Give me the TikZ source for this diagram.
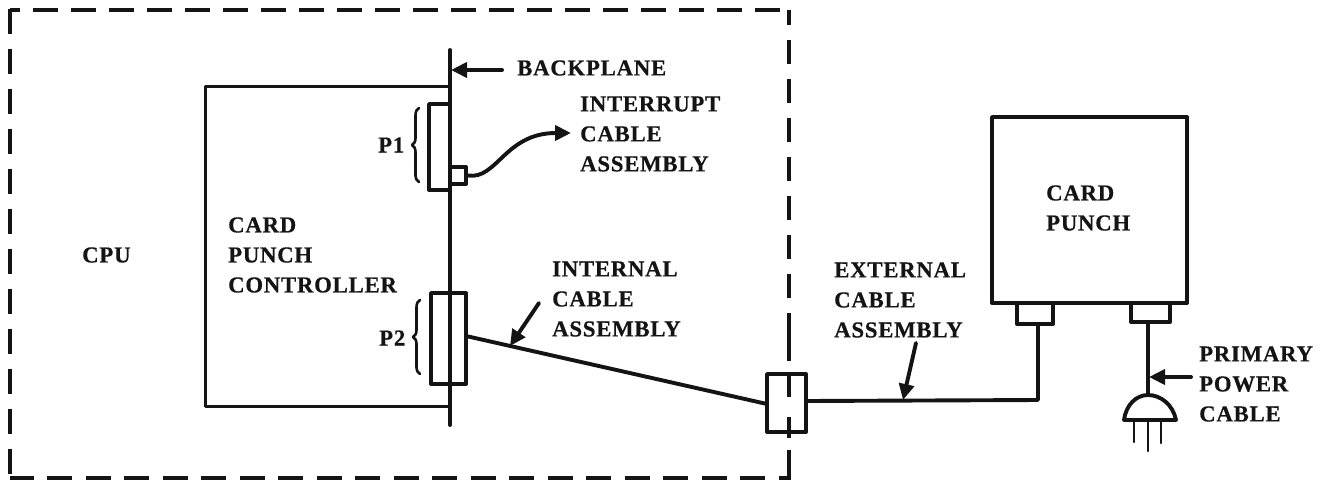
\documentclass[tikz,border=0pt]{standalone}
\usepackage{fontspec}
\setmainfont{Liberation Serif}[BoldFeatures={LetterSpace=3.2,FakeBold=0.5}]
\usetikzlibrary{arrows.meta,decorations.pathreplacing}
\tikzset{
  x=1pt,y=-1pt,
  ln/.style={line width=3.9pt,line cap=round,line join=round,black!92},
  boxln/.style={draw,line width=3.9pt,line join=round,black!92,inner sep=0pt},
  midln/.style={line width=3pt,line cap=round,line join=round,black!92},
  thinln/.style={line width=2.6pt,line cap=round,line join=round,black!92},
  dashln/.style={line width=3.2pt,black!92},
  arr/.style={ln,-{Triangle[length=16pt,width=15pt]}},
  lbl/.style={font=\fontsize{22.8}{30}\selectfont\bfseries,align=left,anchor=west,inner sep=0pt,text=black!92},
  brace/.style={thinln,decorate,decoration={brace,amplitude=7pt}},
}
\begin{document}
\begin{tikzpicture}
\useasboundingbox (0,0) rectangle (1325,480);
\fill[white] (0,0) rectangle (1325,480);
% dashed enclosure
\draw[dashln,dash pattern=on 25pt off 13pt,dash phase=15pt] (10,10) -- (789,10);
\draw[dashln,dash pattern=on 25pt off 15pt] (10,8.5) -- (10,478);
\draw[dashln,dash pattern=on 25pt off 13.5pt,dash phase=13pt] (790.5,478) -- (10,478);
\draw[dashln,dash pattern=on 24pt off 15pt] (789,337) -- (789,10);
\draw[dashln] (789,361) -- (789,337);
\draw[dashln] (789,450) -- (789,479.5);
% controller + backplane
\coordinate (bpT) at (450,50);
\coordinate (bpB) at (450,425);
\draw[ln] (bpT) -- (bpB);
\draw[midln] (450,86) -- (205,86) -- (205,406) -- (450,406);
% P1
\node[boxln,minimum width=21pt,minimum height=86pt] (p1) at (439.5,147) {};
\node[boxln,minimum width=16pt,minimum height=17pt] (ic) at (458,175.5) {};
% P2
\node[boxln,minimum width=35pt,minimum height=91pt] (p2) at (448.5,338.5) {};
\coordinate (p2o) at (466,336);
% midway connector
\node[boxln,minimum width=39pt,minimum height=58pt,fill=white] (mc) at (786.5,403) {};
\draw[dashln] (789,374) -- (789,397);
\draw[dashln] (789,417) -- (789,438);
\coordinate (mcl) at (767,404);
\coordinate (mcr) at (806,401);
\draw[ln] (p2o) -- (mcl);
% card punch
\node[boxln,minimum width=195pt,minimum height=186pt] (cp) at (1089.5,210) {};
\node[boxln,minimum width=36pt,minimum height=21pt] (c1) at (1035,313.5) {};
\node[boxln,minimum width=39pt,minimum height=19pt] (c2) at (1150.5,312.5) {};
\draw[ln] (mcr) -- (1038,400) -- (c1.south -| 1038,0);
% plug
\coordinate (plugT) at (1148,395);
\draw[ln] (c2.south -| plugT) -- (plugT);
\draw[ln] (1124,420) -- (1176,420) .. controls (1173,405) and (1161,395) .. (plugT) .. controls (1136,395) and (1126,405) .. (1124,420) -- cycle;
\draw[thinln] (1134,420) -- (1134,442);
\draw[thinln] (1148,420) -- (1148,451);
\draw[thinln] (1161,420) -- (1161,443);
% interrupt curve
\coordinate (icTip) at (571,133);
\draw[arr] (ic.east) .. controls (497,180) and (505,133) .. (icTip);
% braces
\draw[brace] (419,182) -- (419,108);
\draw[brace] (420,374) -- (420,300);
% labels
\node[lbl] (tcpu) at (82,255) {CPU};
\node[lbl] (tctl) at (228,255) {CARD\\PUNCH\\CONTROLLER};
\node[lbl] (tp1) at (378,145) {P1};
\node[lbl] (tp2) at (379,338) {P2};
\node[lbl] (tbp) at (517,68) {BACKPLANE};
\node[lbl] (tint) at (580,134) {INTERRUPT\\CABLE\\ASSEMBLY};
\node[lbl] (tinl) at (552,299) {INTERNAL\\CABLE\\ASSEMBLY};
\node[lbl] (text) at (834,300) {EXTERNAL\\CABLE\\ASSEMBLY};
\node[lbl] (tcp) at (1046,208) {CARD\\PUNCH};
\node[lbl] (tpp) at (1199,384) {PRIMARY\\POWER\\CABLE};
% pointers
\coordinate (a1s) at (502,70); \coordinate (a1t) at (451,70);
\draw[arr] (a1s) -- (a1t);
\coordinate (a2s) at (539,303); \coordinate (a2t) at (510,346);
\draw[arr] (a2s) -- (a2t);
\coordinate (a3s) at (916,343); \coordinate (a3t) at (903,400);
\draw[arr] (a3s) -- (a3t);
\coordinate (a4s) at (1191,377); \coordinate (a4t) at (1149,377);
\draw[arr] (a4s) -- (a4t);
\end{tikzpicture}
\end{document}
